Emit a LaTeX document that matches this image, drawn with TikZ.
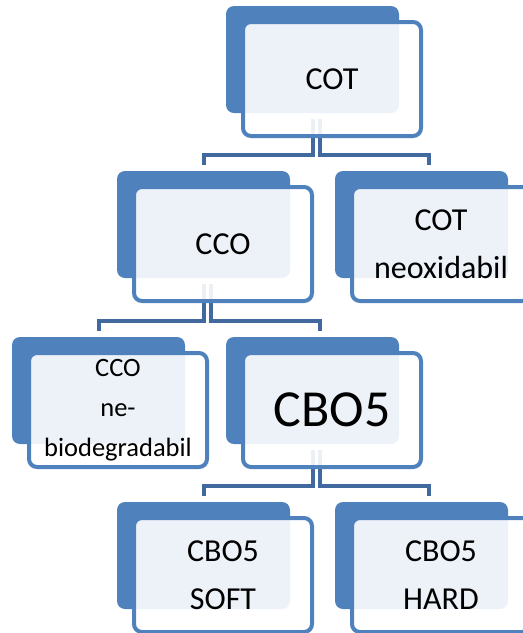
\documentclass[tikz,border=0pt]{standalone}
\usepackage{fontspec}
\setmainfont{Carlito}

\definecolor{boxblue}{HTML}{4F81BD}
\definecolor{linkblue}{HTML}{41699E}

\tikzset{
  back/.style={fill=boxblue, rounded corners=8pt, minimum width=173pt, minimum height=107pt, inner sep=0pt},
  front/.style={draw=boxblue, line width=4pt, fill=white, fill opacity=0.9, text opacity=1,
    rounded corners=8pt, minimum width=178pt, minimum height=114pt, inner sep=0pt,
    align=center, font=\fontsize{32}{48}\selectfont},
  link/.style={draw=linkblue, line width=4pt},
}

\begin{document}
\begin{tikzpicture}[x=1pt,y=-1pt]
  \clip (0,0) rectangle (523,633); % page frame

  % back boxes
  \node[back] (cot-b)     at (312.5,59.5)  {};
  \node[back] (cco-b)     at (203.5,224.5) {};
  \node[back] (cotneox-b) at (421.5,224.5) {};
  \node[back] (ccone-b)   at (98.5,390.5)  {};
  \node[back] (cbo-b)     at (312.5,390.5) {};
  \node[back] (cbosoft-b) at (203.5,555.5) {};
  \node[back] (cbohard-b) at (421.5,555.5) {};

  % connectors, left one at the centre, right one shifted by 7pt
  \draw[link] ([yshift=-6pt]cot-b.south) |- ([yshift=16pt]cco-b.north) -- ([yshift=6pt]cco-b.north);
  \draw[link] ([xshift=7pt,yshift=-6pt]cot-b.south) |- ([xshift=7pt,yshift=16pt]cotneox-b.north) -- ([xshift=7pt,yshift=6pt]cotneox-b.north);
  \draw[link] ([yshift=-6pt]cco-b.south) |- ([yshift=16pt]ccone-b.north) -- ([yshift=6pt]ccone-b.north);
  \draw[link] ([xshift=7pt,yshift=-6pt]cco-b.south) |- ([xshift=7pt,yshift=16pt]cbo-b.north) -- ([xshift=7pt,yshift=6pt]cbo-b.north);
  \draw[link] ([yshift=-6pt]cbo-b.south) |- ([yshift=16pt]cbosoft-b.north) -- ([yshift=6pt]cbosoft-b.north);
  \draw[link] ([xshift=7pt,yshift=-6pt]cbo-b.south) |- ([xshift=7pt,yshift=16pt]cbohard-b.north) -- ([xshift=7pt,yshift=6pt]cbohard-b.north);

  % front boxes with the texts
  \node[front] (cot)     at ([shift={(19.5pt,-19.5pt)}]cot-b.center)     {COT};
  \node[front] (cco)     at ([shift={(19.5pt,-19.5pt)}]cco-b.center)     {CCO};
  \node[front] (cotneox) at ([shift={(19.5pt,-19.5pt)}]cotneox-b.center) {COT\\neoxidabil};
  \node[front, font=\fontsize{26.5}{40}\selectfont] (ccone) at ([shift={(19.5pt,-19.5pt)}]ccone-b.center) {CCO\\ne-\\biodegradabil};
  \node[front, font=\fontsize{52}{60}\selectfont] (cbo)   at ([shift={(19.5pt,-19.5pt)}]cbo-b.center)   {CBO5};
  \node[front] (cbosoft) at ([shift={(19.5pt,-19.5pt)}]cbosoft-b.center) {CBO5\\SOFT};
  \node[front] (cbohard) at ([shift={(19.5pt,-19.5pt)}]cbohard-b.center) {CBO5\\HARD};
\end{tikzpicture}
\end{document}
